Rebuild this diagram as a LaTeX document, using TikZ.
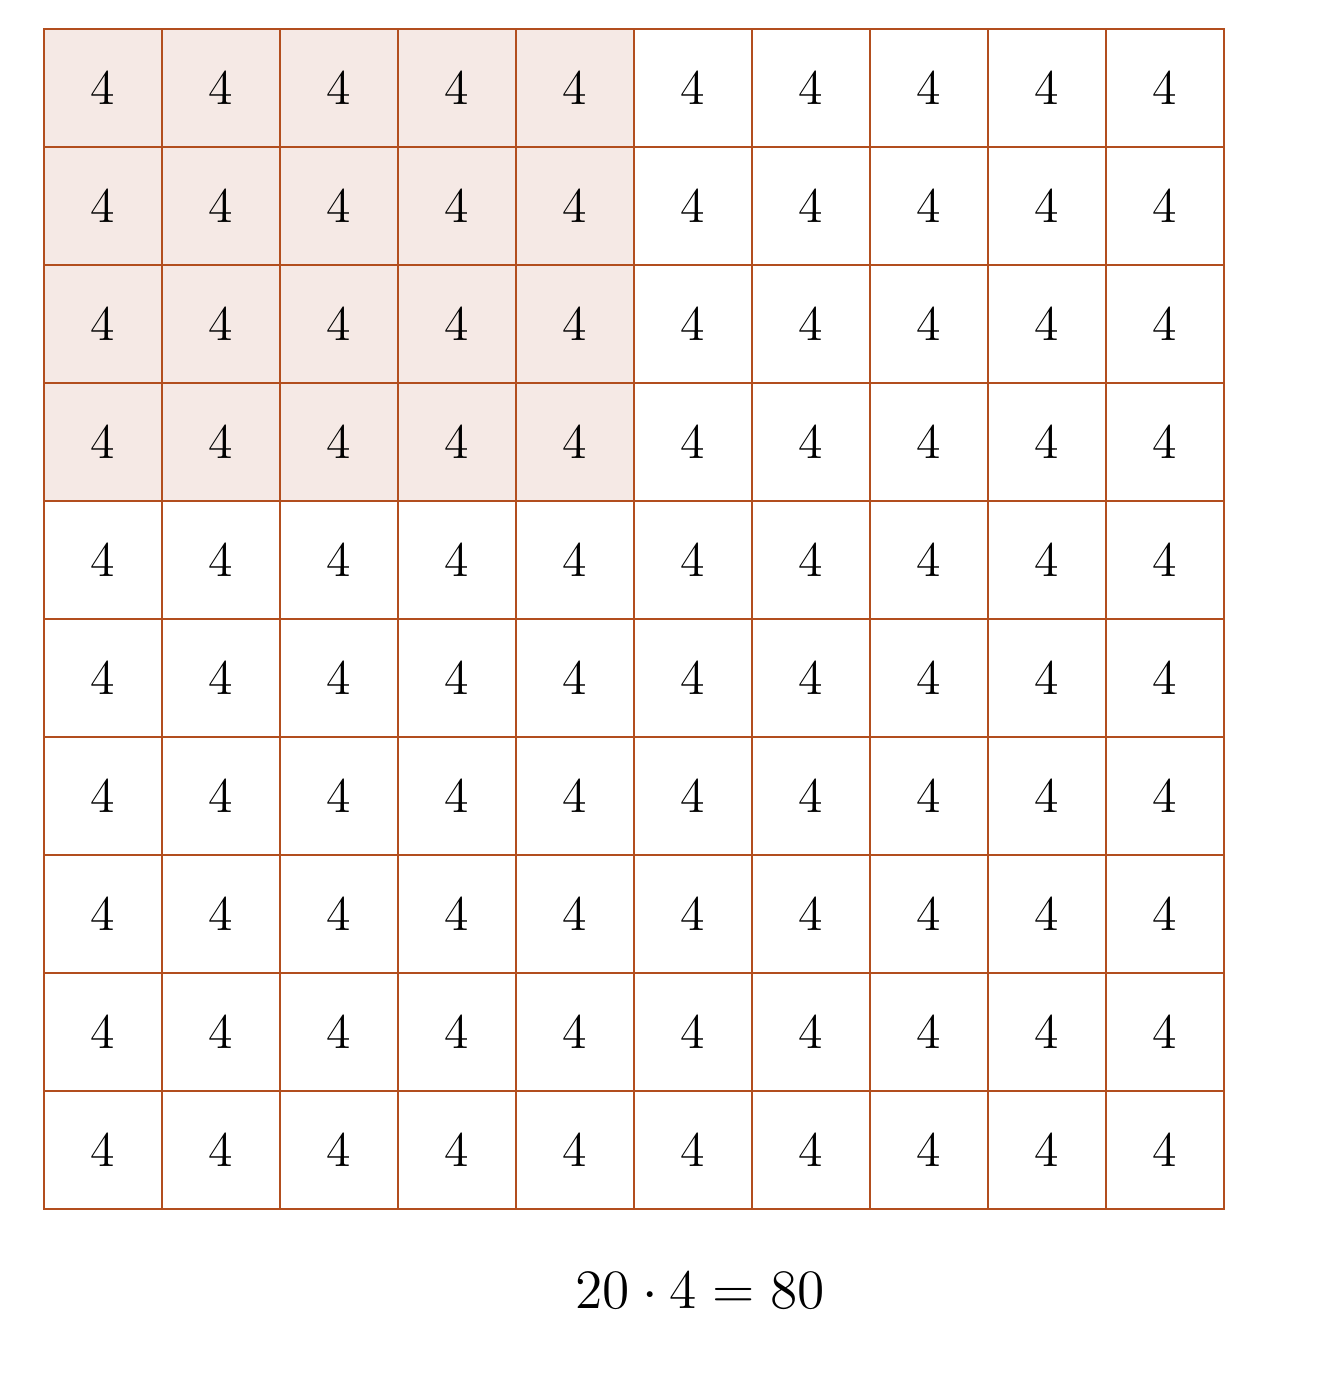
\documentclass[tikz,border=0pt]{standalone}
\usepackage{tikz}
\usepackage{graphicx}
\definecolor{gridline}{RGB}{178,78,30}
\definecolor{shade}{RGB}{245,233,229}
\tikzset{
  cellbox/.style={draw=gridline, line width=0.65pt, minimum width=1cm, minimum height=1cm, inner sep=0pt, outer sep=0pt, font=\fontsize{12.3}{14}\selectfont},
  shadedcell/.style={cellbox, fill=shade},
  plaincell/.style={cellbox, fill=white},
  eqlabel/.style={font=\fontsize{14}{16}\selectfont, inner sep=0pt}
}
\begin{document}
\begin{tikzpicture}
\useasboundingbox (-0.373,0.2458) rectangle (10.949,-11.407);
\foreach \r in {1,...,10}{
  \foreach \c in {1,...,10}{
    \pgfmathtruncatemacro{\sh}{(\r<=4 && \c<=5) ? 1 : 0}
    \ifnum\sh=1
      \node[shadedcell] (c\r-\c) at (\c-0.5,-\r+0.5) {$4$};
    \else
      \node[plaincell] (c\r-\c) at (\c-0.5,-\r+0.5) {$4$};
    \fi
  }
}
\node[eqlabel] (eq) at (5.56,-10.69) {\scalebox{0.93}{$20\cdot 4=80$}};
\end{tikzpicture}
\end{document}
